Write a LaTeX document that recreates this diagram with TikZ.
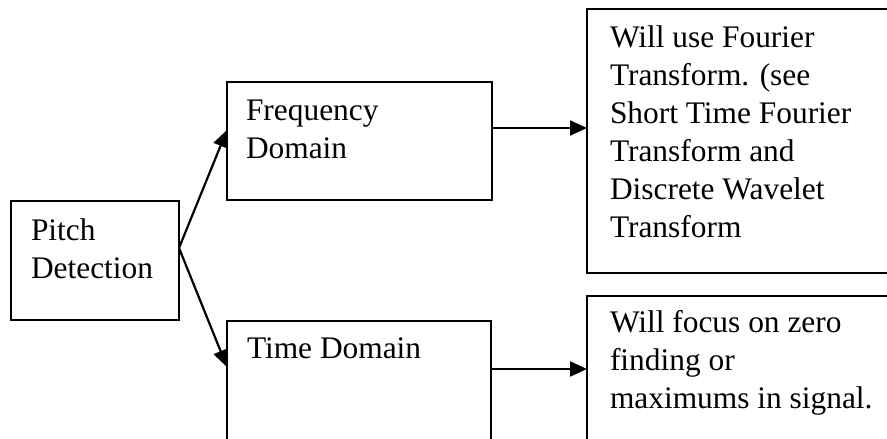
\documentclass[tikz,border=0pt]{standalone}
\usepackage{fontspec}
\setmainfont{Liberation Serif}
\usetikzlibrary{arrows.meta}
\begin{document}
\begin{tikzpicture}[x=1pt,y=-1pt,
  box/.style={draw=black,line width=2.6pt,rectangle,inner sep=0pt,outer sep=0pt},
  txt/.style={anchor=north west,inner sep=0pt,outer sep=0pt,align=left,
    font=\fontsize{31.4}{38}\selectfont},
  arr/.style={line width=2.2pt,-{Triangle[length=17pt,width=15pt]}}]
\path[use as bounding box] (0,0) rectangle (887,439);
\clip (0,0) rectangle (887,439);
% boxes
\node[box,minimum width=168pt,minimum height=119pt] (pitch) at (95,260.5) {};
\node[box,minimum width=265pt,minimum height=118pt] (freq) at (359.5,141) {};
\node[box,minimum width=264pt,minimum height=200pt] (time) at (359,421) {};
\node[box,minimum width=400pt,minimum height=264pt] (ftx) at (787,141) {};
\node[box,minimum width=400pt,minimum height=200pt] (ttx) at (787,396) {};
% texts
\node[txt] (pitcht) at (31,213.4) {\strut Pitch\\\strut Detection};
\node[txt] (freqt) at (246,93.4) {\strut Frequency\\\strut Domain};
\node[txt] (timet) at (247,331.4) {\strut Time Domain};
\node[txt] (ftxt) at (610,20.4) {\strut Will use Fourier\\\strut Transform. (see\\\strut Short Time Fourier\\\strut Transform and\\\strut Discrete Wavelet\\\strut Transform};
\node[txt] (ttxt) at (610,305.4) {\strut Will focus on zero\\\strut finding or\\\strut maximums in signal.};
% connectors
\draw[arr] ([yshift=12.5pt]pitch.east) -- ([yshift=11pt]freq.west);
\draw[arr] ([yshift=12.5pt]pitch.east) -- ([yshift=54pt]time.west);
\draw[arr] ([yshift=13pt]freq.east) -- ([yshift=13pt]ftx.west);
\draw[arr] ([yshift=52pt]time.east) -- ([yshift=27pt]ttx.west);
\end{tikzpicture}
\end{document}
